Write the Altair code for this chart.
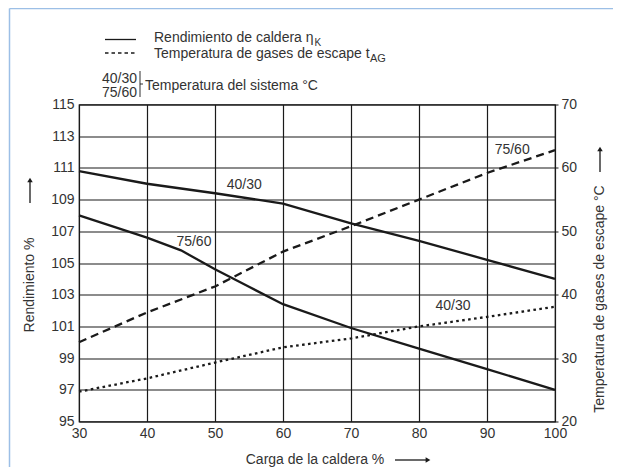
import altair as alt
import pandas as pd

# ---------------- data ----------------
carga = [30, 40, 50, 60, 70, 80, 90, 100]
rend_4030 = [110.8, 110.0, 109.4, 108.75, 107.5, 106.4, 105.2, 104.0]
carga_7560 = [30, 40, 45, 50, 55, 60, 70, 80, 90, 100]
rend_7560 = [108.0, 106.6, 105.8, 104.6, 103.5, 102.4, 100.9, 99.6, 98.3, 97.0]
temp_7560 = [32.5, 37.2, 41.3, 46.8, 50.8, 55.0, 59.2, 62.8]
temp_4030 = [24.7, 26.8, 29.3, 31.7, 33.1, 35.0, 36.5, 38.1]

x_ticks = [30, 40, 50, 60, 70, 80, 90, 100]
y_left_ticks = [95, 97, 99, 101, 103, 105, 107, 109, 111, 113, 115]
y_right_ticks = [20, 30, 40, 50, 60, 70]

FONT = "Liberation Sans"
INK = "#1a1a1a"
TXT = "#333333"
W, H = 476, 317
OX, OY = 79, 104.5  # page position of plot origin


def px(v):
    return v - OX


def py(v):
    return v - OY


eff = pd.DataFrame(
    [{"carga": c, "rend": r, "sis": "40/30"} for c, r in zip(carga, rend_4030)]
    + [{"carga": c, "rend": r, "sis": "75/60"} for c, r in zip(carga_7560, rend_7560)]
)
tmp_4030 = pd.DataFrame({"carga": carga, "temp": temp_4030})
tmp_7560 = pd.DataFrame({"carga": carga, "temp": temp_7560})

common_axis = dict(title=None, domain=False, labelFont=FONT, labelFontSize=14,
                   labelColor=TXT, labelOverlap=False, labelFlush=False, format="d")

xs = alt.Scale(domain=[30, 100], nice=False)
xaxis = alt.Axis(values=x_ticks, tickCount=len(x_ticks), grid=True, gridColor=INK,
                 gridOpacity=1, gridWidth=1.2, ticks=False, labelPadding=5, **common_axis)
ys_left = alt.Scale(domain=[95, 115], nice=False)
ys_right = alt.Scale(domain=[20, 70], nice=False)
yaxis_left = alt.Axis(values=y_left_ticks, tickCount=len(y_left_ticks), grid=True,
                      gridColor=INK, gridOpacity=1, gridWidth=1.2, ticks=False,
                      labelPadding=5, **common_axis)
yaxis_right = alt.Axis(values=y_right_ticks, tickCount=len(y_right_ticks), orient="right",
                       grid=False, ticks=True, tickSize=3, tickColor=INK, labelPadding=3,
                       **common_axis)

eff_lines = alt.Chart(eff).mark_line(color=INK, strokeWidth=2.3).encode(
    x=alt.X("carga:Q", scale=xs, axis=xaxis),
    y=alt.Y("rend:Q", scale=ys_left, axis=yaxis_left),
    detail="sis:N",
)

lab_eff = pd.DataFrame({"carga": [54.3, 46.9], "rend": [109.9, 106.3], "t": ["40/30", "75/60"]})
eff_labels = alt.Chart(lab_eff).mark_text(font=FONT, fontSize=14, color=TXT).encode(
    x=alt.X("carga:Q", scale=xs), y=alt.Y("rend:Q", scale=ys_left), text="t:N")

left_layer = alt.layer(eff_lines, eff_labels)

t_dash = alt.Chart(tmp_7560).mark_line(color=INK, strokeWidth=2.3, strokeDash=[8, 5]).encode(
    x=alt.X("carga:Q", scale=xs),
    y=alt.Y("temp:Q", scale=ys_right, axis=yaxis_right),
)
t_dot = alt.Chart(tmp_4030).mark_line(color=INK, strokeWidth=2.3, strokeDash=[2.6, 3.4]).encode(
    x=alt.X("carga:Q", scale=xs),
    y=alt.Y("temp:Q", scale=ys_right),
)
lab_tmp = pd.DataFrame({"carga": [93.7, 85.0], "temp": [62.8, 38.2], "t": ["75/60", "40/30"]})
tmp_labels = alt.Chart(lab_tmp).mark_text(font=FONT, fontSize=14, color=TXT).encode(
    x=alt.X("carga:Q", scale=xs), y=alt.Y("temp:Q", scale=ys_right), text="t:N")

right_layer = alt.layer(t_dash, t_dot, tmp_labels)

# ---------------- decorations (pixel positioned) ----------------
one = pd.DataFrame({"a": [0]})


def text(t, x, y, size=14, angle=0, align="left", baseline="alphabetic"):
    kw = dict(font=FONT, fontSize=size, color=TXT, align=align, baseline=baseline)
    if angle:
        kw["angle"] = angle
    return alt.Chart(one).mark_text(**kw).encode(
        x=alt.value(px(x)), y=alt.value(py(y)), text=alt.value(t))


def rule(x1, y1, x2, y2, w=1.2, dash=None, color=INK):
    kw = dict(color=color, strokeWidth=w)
    if dash:
        kw["strokeDash"] = dash
    return alt.Chart(one).mark_rule(**kw).encode(
        x=alt.value(px(x1)), y=alt.value(py(y1)), x2=alt.value(px(x2)), y2=alt.value(py(y2)))


def tri(x, y, shape):
    return alt.Chart(one).mark_point(shape=shape, filled=True, color=INK, size=30, opacity=1).encode(
        x=alt.value(px(x)), y=alt.value(py(y)))


deco = [
    # frame (light blue)
    rule(9.5, 8.5, 9.5, 475, w=1.5, color="#9cbfe6"),
    rule(9.5, 8.5, 623, 8.5, w=1.5, color="#9cbfe6"),
    # legend
    rule(105, 39.5, 136, 39.5, w=1.3),
    text("Rendimiento de caldera η", 154, 41.5),
    text("K", 314.5, 46, size=10),
    rule(105, 53, 136, 53, w=1.3, dash=[3.5, 3]),
    text("Temperatura de gases de escape t", 154, 57.5),
    text("AG", 370, 61.5, size=11),
    text("40/30", 137, 83, align="right"),
    text("75/60", 137, 96.5, align="right"),
    rule(140, 71, 140, 97, w=0.9),
    rule(140, 84, 143, 84, w=0.9),
    text("Temperatura del sistema °C", 145, 89.5),
    # axis titles
    text("Rendimiento %", 30, 285, angle=270, align="center", baseline="middle"),
    rule(30, 181, 30, 203, w=1.3),
    tri(30, 180, "triangle-up"),
    text("Temperatura de gases de escape °C", 600, 299, angle=270, align="center", baseline="middle"),
    rule(600, 150, 600, 172, w=1.3),
    tri(600, 149, "triangle-up"),
    text("Carga de la caldera %", 315, 460, align="center", baseline="middle"),
    rule(395, 460, 426, 460, w=1.3),
    tri(428, 460, "triangle-right"),
]

chart = alt.layer(left_layer, right_layer, *deco).resolve_scale(y="independent").properties(
    width=W, height=H,
    padding={"left": OX - 8, "top": OY - 8, "right": 623 - 16 - (OX - 8) - W - 2,
             "bottom": 459 - (OY - 8) - H},
    autosize=alt.AutoSizeParams(type="none"),
).configure_view(stroke=INK, strokeWidth=1.2)

chart.save("out.html", embed_options={"renderer": "svg", "actions": False})
